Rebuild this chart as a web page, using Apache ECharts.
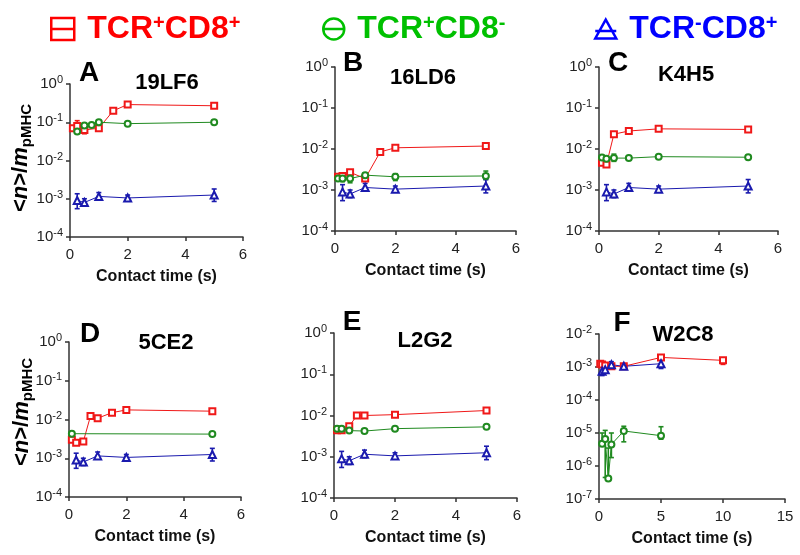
<!DOCTYPE html>
<html>
<head>
<meta charset="utf-8">
<script src="https://cdn.jsdelivr.net/npm/echarts@6/dist/echarts.min.js"></script>
<style>
    html, body { margin: 0; background: #fff; }
    #main { width: 800px; height: 555px; }
</style>
</head>
<body>
<div id="main"></div>
<script>
// ── data (contact time in s, <n>/m_pMHC) ──────────────────────
const NAMES = ['TCR+CD8+', 'TCR+CD8-', 'TCR-CD8+'];

// TCR-CD8+ control, shared by A-E
const blueX = [0.25, 0.5, 1, 2, 5];
const blueY = [9e-4, 8e-4, 1.15e-3, 1.05e-3, 1.25e-3];
const blueLo = [5.5e-4, 6.5e-4, 9.5e-4, 9.5e-4, 8.5e-4];
const blueHi = [1.35e-3, 1.0e-3, 1.45e-3, 1.25e-3, 1.8e-3];

// A 19LF6
const aRedX = [0.1, 0.25, 0.5, 1, 1.5, 2, 5];
const aRedY = [0.07, 0.08, 0.063, 0.07, 0.2, 0.29, 0.27];
const aRedLo = [null, 0.06, 0.05, null, null, null, null];
const aRedHi = [null, 0.11, 0.08, null, null, null, null];
const aGreenX = [0.25, 0.5, 0.75, 1, 2, 5];
const aGreenY = [0.057, 0.082, 0.085, 0.1, 0.092, 0.1];

// B 16LD6
const bRedX = [0.1, 0.25, 0.5, 1, 1.5, 2, 5];
const bRedY = [0.0021, 0.0022, 0.0027, 0.0019, 0.0085, 0.0107, 0.0118];
const bGreenX = [0.1, 0.25, 0.5, 1, 2, 5];
const bGreenY = [0.0019, 0.0019, 0.0019, 0.0023, 0.0021, 0.0022];
const bGreenLo = [null, 0.0016, 0.0015, 0.0019, 0.0017, 0.0018];
const bGreenHi = [null, 0.0023, 0.0025, 0.0026, 0.0025, 0.0029];

// C K4H5
const cRedX = [0.1, 0.25, 0.5, 1, 2, 5];
const cRedY = [0.0046, 0.0042, 0.023, 0.0275, 0.031, 0.03];
const cRedLo = [null, 0.0036, null, null, null, null];
const cRedHi = [null, 0.005, null, null, null, null];
const cGreenX = [0.1, 0.25, 0.5, 1, 2, 5];
const cGreenY = [0.0062, 0.0058, 0.006, 0.006, 0.0065, 0.0063];
const cGreenLo = [null, null, 0.005, null, null, null];
const cGreenHi = [null, null, 0.0075, null, null, null];

// D 5CE2
const dRedX = [0.1, 0.25, 0.5, 0.75, 1, 1.5, 2, 5];
const dRedY = [0.003, 0.0025, 0.0027, 0.0123, 0.0108, 0.015, 0.0177, 0.0164];
const dGreenX = [0.1, 5];
const dGreenY = [0.0043, 0.0042];

// E L2G2
const eRedX = [0.1, 0.25, 0.5, 0.75, 1, 2, 5];
const eRedY = [0.0044, 0.0044, 0.0055, 0.01, 0.01, 0.0105, 0.0132];
const eGreenX = [0.1, 0.25, 0.5, 1, 2, 5];
const eGreenY = [0.0048, 0.0048, 0.0043, 0.0042, 0.0048, 0.0053];

// F W2C8
const fRedX = [0.1, 0.25, 0.5, 1, 2, 5, 10];
const fRedY = [0.00126, 0.0012, 0.00112, 0.00105, 0.00105, 0.00195, 0.00159];
const fRedLo = [null, null, null, null, null, 0.0017, 0.0012];
const fRedHi = [null, null, null, null, null, 0.0021, 0.0019];
const fGreenX = [0.25, 0.5, 0.75, 1, 2, 5];
const fGreenY = [4.7e-6, 6.6e-6, 4.2e-7, 4.5e-6, 1.15e-5, 8.3e-6];
const fGreenLo = [4.5e-6, 4.5e-7, 3.8e-7, 1.8e-6, 5.4e-6, 6.5e-6];
const fGreenHi = [1.0e-5, 1.2e-5, 3.5e-6, 1.0e-5, 1.6e-5, 1.55e-5];
const fBlueX = [0.25, 0.5, 1, 2, 5];
const fBlueY = [7.4e-4, 8.3e-4, 1.17e-3, 1.05e-3, 1.26e-3];
const fBlueLo = [5.5e-4, 6.5e-4, 9.5e-4, null, 9e-4];
const fBlueHi = [1.0e-3, 1.0e-3, 1.45e-3, null, 1.75e-3];

// ── styles ────────────────────────────────────────────────────
const FONT = 'Liberation Sans';
const COLORS = ['#f01818', '#208a20', '#1a1aae'];
const HEAD_COLORS = ['#ff0000', '#00c000', '#0000ff'];
const SYMBOLS = ['emptyRect', 'emptyCircle', 'emptyTriangle'];
// header icons: outline shape crossed by a line
const HEAD_ICONS = [
    'path://M1,1H22V21H1Z M1,11H22',
    'path://M0,10A10,10,0,1,1,20,10A10,10,0,1,1,0,10Z M0,10H20',
    'path://M10,0L20,18H0Z M0,11H20',
];
const AXIS = '#333';

const panels = [
    { letter: 'A', label: '19LF6', grid: { left: 70, top: 84, width: 173, height: 153 }, xMax: 6, xStep: 2, yMin: 1e-4, yMax: 1,
      letterAt: [89, 73], labelAt: [167, 83], yName: [21, 158],
      sets: [[aRedX, aRedY, aRedLo, aRedHi], [aGreenX, aGreenY], [blueX, blueY, blueLo, blueHi]] },
    { letter: 'B', label: '16LD6', grid: { left: 335, top: 67, width: 181, height: 164 }, xMax: 6, xStep: 2, yMin: 1e-4, yMax: 1,
      letterAt: [353, 63], labelAt: [423, 78],
      sets: [[bRedX, bRedY], [bGreenX, bGreenY, bGreenLo, bGreenHi], [blueX, blueY, blueLo, blueHi]] },
    { letter: 'C', label: 'K4H5', grid: { left: 599, top: 67, width: 179, height: 164 }, xMax: 6, xStep: 2, yMin: 1e-4, yMax: 1,
      letterAt: [618, 63], labelAt: [686, 75],
      sets: [[cRedX, cRedY, cRedLo, cRedHi], [cGreenX, cGreenY, cGreenLo, cGreenHi], [blueX, blueY, blueLo, blueHi]] },
    { letter: 'D', label: '5CE2', grid: { left: 69, top: 342, width: 172, height: 155 }, xMax: 6, xStep: 2, yMin: 1e-4, yMax: 1,
      letterAt: [90, 334], labelAt: [166, 343], yName: [22, 412],
      sets: [[dRedX, dRedY], [dGreenX, dGreenY], [blueX, blueY, blueLo, blueHi]] },
    { letter: 'E', label: 'L2G2', grid: { left: 334, top: 333, width: 183, height: 165 }, xMax: 6, xStep: 2, yMin: 1e-4, yMax: 1,
      letterAt: [352, 322], labelAt: [425, 341],
      sets: [[eRedX, eRedY], [eGreenX, eGreenY], [blueX, blueY, blueLo, blueHi]] },
    { letter: 'F', label: 'W2C8', grid: { left: 599, top: 334, width: 186, height: 165 }, xMax: 15, xStep: 5, yMin: 1e-7, yMax: 1e-2,
      letterAt: [622, 323], labelAt: [683, 335],
      sets: [[fRedX, fRedY, fRedLo, fRedHi], [fGreenX, fGreenY, fGreenLo, fGreenHi], [fBlueX, fBlueY, fBlueLo, fBlueHi]] },
];

// superscript helper for names like TCR+CD8-
function richName(name) {
    const m = name.match(/^TCR(.)CD8(.)$/);
    return `{f|TCR}{s|${m[1]}}{t|CD8}{s|${m[2]}}`;
}

function errorSeries(i, x, lo, hi, color) {
    const data = [];
    x.forEach((v, k) => { if (lo[k] != null) data.push([v, lo[k], hi[k]]); });
    return {
        type: 'custom',
        xAxisIndex: i,
        yAxisIndex: i,
        data: data,
        z: 1,
        silent: true,
        encode: { x: 0, y: [1, 2] },
        renderItem(params, api) {
            const a = api.coord([api.value(0), api.value(1)]);
            const b = api.coord([api.value(0), api.value(2)]);
            const w = 2.5;
            const st = { stroke: color, lineWidth: 1.6 };
            return {
                type: 'group',
                children: [
                    { type: 'line', shape: { x1: a[0], y1: a[1], x2: b[0], y2: b[1] }, style: st },
                    { type: 'line', shape: { x1: a[0] - w, y1: a[1], x2: a[0] + w, y2: a[1] }, style: st },
                    { type: 'line', shape: { x1: b[0] - w, y1: b[1], x2: b[0] + w, y2: b[1] }, style: st },
                ],
            };
        },
    };
}

const grid = [], xAxis = [], yAxis = [], series = [], graphic = [];

panels.forEach((p, i) => {
    grid.push(p.grid);
    xAxis.push({
        gridIndex: i,
        type: 'value',
        min: 0,
        max: p.xMax,
        interval: p.xStep,
        splitLine: { show: false },
        axisLine: { lineStyle: { color: AXIS, width: 1.5 } },
        axisTick: { length: 4, lineStyle: { color: AXIS, width: 1.5 } },
        axisLabel: { color: '#222', fontSize: 15, fontFamily: FONT, margin: 10 },
        name: 'Contact time (s)',
        nameLocation: 'middle',
        nameGap: 32,
        nameTextStyle: { color: '#111', fontSize: 16, fontWeight: 'bold', fontFamily: FONT },
    });
    yAxis.push({
        gridIndex: i,
        type: 'log',
        logBase: 10,
        min: p.yMin,
        max: p.yMax,
        splitLine: { show: false },
        axisLine: { show: true, lineStyle: { color: AXIS, width: 1.5 } },
        axisTick: { show: true, length: 4, lineStyle: { color: AXIS, width: 1.5 } },
        axisLabel: {
            margin: 7,
            formatter: v => `{b|10}{e|${Math.round(Math.log10(v))}}`,
            rich: {
                b: { fontSize: 15, color: '#222', fontFamily: FONT, lineHeight: 18 },
                e: { fontSize: 11, color: '#222', fontFamily: FONT, height: 10, verticalAlign: 'top' },
            },
        },
    });

    p.sets.forEach((s, k) => {
        const [x, y, lo, hi] = s;
        series.push({
            name: NAMES[k],
            type: 'line',
            xAxisIndex: i,
            yAxisIndex: i,
            data: x.map((v, j) => [v, y[j]]),
            symbol: SYMBOLS[k],
            symbolSize: k === 2 ? 7 : 6,
            showAllSymbol: true,
            z: 3,
            lineStyle: { color: COLORS[k], width: 1 },
            itemStyle: { color: COLORS[k], borderWidth: 1.5 },
            emphasis: { disabled: true },
        });
        if (lo) series.push(errorSeries(i, x, lo, hi, COLORS[k]));
    });

    graphic.push({
        type: 'text', x: p.letterAt[0], y: p.letterAt[1],
        style: { text: p.letter, fill: '#000', font: `bold 28px "${FONT}"`, align: 'center', verticalAlign: 'middle' },
    });
    graphic.push({
        type: 'text', x: p.labelAt[0], y: p.labelAt[1],
        style: { text: p.label, fill: '#000', font: `bold 22px "${FONT}"`, align: 'center', verticalAlign: 'middle' },
    });
    if (p.yName) {
        graphic.push({
            type: 'text', x: p.yName[0], y: p.yName[1], rotation: Math.PI / 2,
            style: {
                text: '{a|<}{i|n}{a|>/}{i|m}{s|pMHC}',
                align: 'center',
                verticalAlign: 'middle',
                rich: {
                    a: { fontSize: 22, fontWeight: 'bold', fontFamily: FONT, fill: '#000', lineHeight: 26 },
                    i: { fontSize: 22, fontWeight: 'bold', fontStyle: 'italic', fontFamily: FONT, fill: '#000', lineHeight: 26 },
                    s: { fontSize: 15, fontWeight: 'bold', fontFamily: FONT, fill: '#000', lineHeight: 15, verticalAlign: 'bottom' },
                },
            },
        });
    }
});

// header legends, one per cell type
const legendLeft = [50, 322, 594];
const legend = NAMES.map((n, k) => ({
    left: legendLeft[k],
    top: 13,
    padding: 0,
    itemWidth: k === 0 ? 23 : 21,
    itemHeight: k === 2 ? 20 : 22,
    selectedMode: false,
    data: [{
        name: n,
        icon: HEAD_ICONS[k],
        itemStyle: { color: 'rgba(0,0,0,0)', borderColor: HEAD_COLORS[k], borderWidth: 2.5 },
    }],
    formatter: richName,
    textStyle: {
        rich: {
            f: { fontSize: 32, lineHeight: 22, fontWeight: 'bold', fontFamily: FONT, color: HEAD_COLORS[k], padding: [0, 0, 0, 8] },
            t: { fontSize: 32, lineHeight: 22, fontWeight: 'bold', fontFamily: FONT, color: HEAD_COLORS[k] },
            s: { fontSize: 20, height: 10, fontWeight: 'bold', fontFamily: FONT, color: HEAD_COLORS[k], verticalAlign: 'top' },
        },
    },
}));

const chart = echarts.init(document.getElementById('main'), null, { renderer: 'canvas' });
chart.setOption({
    animation: false,
    backgroundColor: '#fff',
    legend: legend,
    grid: grid,
    xAxis: xAxis,
    yAxis: yAxis,
    series: series,
    graphic: graphic,
});

window.addEventListener('resize', () => chart.resize());
</script>
</body>
</html>
